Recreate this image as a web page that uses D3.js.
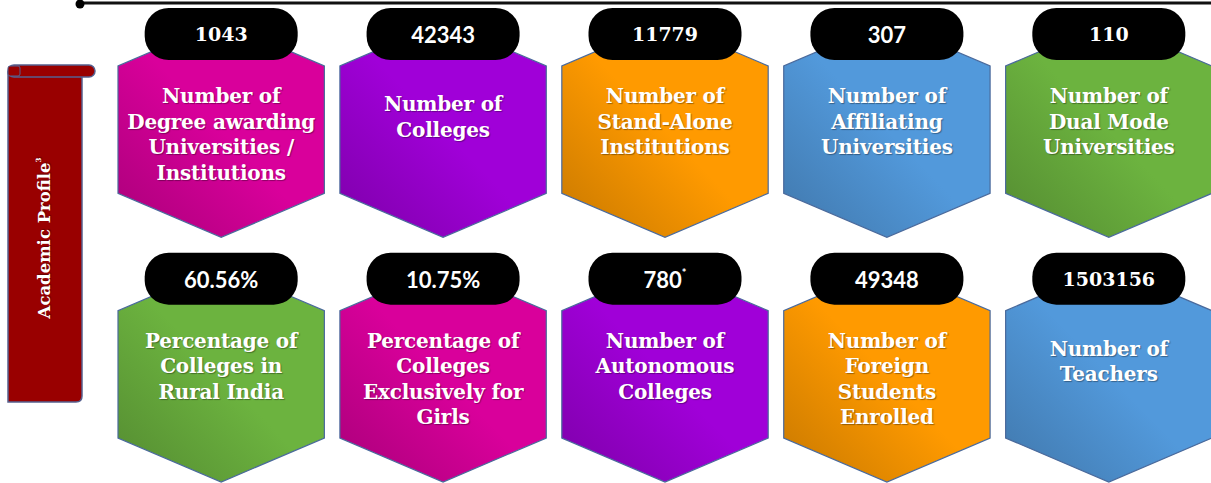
<!DOCTYPE html>
<html>
<head>
<meta charset="utf-8">
<script src="https://cdn.jsdelivr.net/npm/d3@7"></script>
<style>
  body { margin: 0; background: #fff; }
  svg text { text-shadow: 1px 1px 1px rgba(0,0,0,0.35); }
</style>
</head>
<body>
<div id="grafica"></div>
<script>
// Datos del gráfico
var values = ["1043", "42343", "11779", "307", "110", "60.56%", "10.75%", "780", "49348", "1503156"];
var labels = [
  ["Number of", "Degree awarding", "Universities /", "Institutions"],
  ["Number of", "Colleges"],
  ["Number of", "Stand-Alone", "Institutions"],
  ["Number of", "Affiliating", "Universities"],
  ["Number of", "Dual Mode", "Universities"],
  ["Percentage of", "Colleges in", "Rural India"],
  ["Percentage of", "Colleges", "Exclusively for", "Girls"],
  ["Number of", "Autonomous", "Colleges"],
  ["Number of", "Foreign", "Students", "Enrolled"],
  ["Number of", "Teachers"]
];
var groups = ["magenta", "purple", "orange", "blue", "green", "green", "magenta", "purple", "orange", "blue"];
var footnotes = ["", "", "", "", "", "", "", "*", "", ""];
var rows = ["row1", "row2"];
var cols = [0, 1, 2, 3, 4];
var title = "Academic Profile";

var width = 1211, height = 483;

var svg = d3.select("#grafica")
  .append("svg")
  .attr("width", width)
  .attr("height", height);

// escalas de posición
var x = d3.scaleBand().domain(cols).range([118, 1212]).paddingInner(0.07);
var y = d3.scaleBand().domain(rows).range([22, 482]).paddingInner(0.12);

var color = d3.scaleOrdinal()
  .domain(["magenta", "purple", "orange", "blue", "green"])
  .range(["#D9009B", "#A000D8", "#FF9A00", "#5299DB", "#6CB33F"]);

var serifValues = new Set(["1043", "11779", "110", "1503156"]);

var data = values.map(function (v, i) {
  return { value: v, label: labels[i], group: groups[i], note: footnotes[i], col: i % 5, row: rows[Math.floor(i / 5)] };
});

// gradientes
var defs = svg.append("defs");
color.domain().forEach(function (g) {
  var grad = defs.append("linearGradient")
    .attr("id", "grad-" + g)
    .attr("x1", 0).attr("y1", 1).attr("x2", 0.5).attr("y2", 0.5);
  grad.append("stop").attr("offset", "0%").attr("stop-color", d3.color(color(g)).darker(0.7));
  grad.append("stop").attr("offset", "100%").attr("stop-color", color(g));
});

// línea superior
svg.append("line")
  .attr("x1", 80).attr("x2", width)
  .attr("y1", 3).attr("y2", 3)
  .attr("stroke", "#111")
  .attr("stroke-width", 3);
svg.append("circle")
  .attr("cx", 80).attr("cy", 4).attr("r", 4.5)
  .attr("fill", "#000");

// banda lateral
var banner = svg.append("g");
banner.append("path")
  .attr("d", "M8,72 H82 V396 Q82,402 76,402 H8 Z")
  .attr("fill", "#990000")
  .attr("stroke", "#55608f")
  .attr("stroke-width", 1.5);
banner.append("rect")
  .attr("x", 8).attr("y", 65).attr("width", 87).attr("height", 12)
  .attr("rx", 6)
  .attr("fill", "#990000")
  .attr("stroke", "#55608f")
  .attr("stroke-width", 1.5);
banner.append("rect")
  .attr("x", 8).attr("y", 66).attr("width", 12).attr("height", 10)
  .attr("rx", 2)
  .attr("fill", "#990000")
  .attr("stroke", "#55608f")
  .attr("stroke-width", 1);
var bt = banner.append("text")
  .attr("transform", "translate(44,238) rotate(-90)")
  .attr("text-anchor", "middle")
  .attr("dominant-baseline", "central")
  .style("font-family", "'DejaVu Serif', serif")
  .style("font-weight", "bold")
  .style("font-size", "16.5px")
  .attr("fill", "#fff");
bt.append("tspan").text(title);
bt.append("tspan").text("3").attr("dy", -6).style("font-size", "7px");

// hexágonos
var hh = 44;
var cards = svg.selectAll(".card")
  .data(data)
  .enter()
  .append("g")
  .attr("class", "card")
  .attr("transform", function (d) { return "translate(" + x(d.col) + "," + y(d.row) + ")"; });

cards.append("path")
  .attr("d", function () {
    var w = x.bandwidth(), h = y.bandwidth();
    return "M" + (w / 2) + ",0 L" + w + "," + hh + " L" + w + "," + (h - hh) +
      " L" + (w / 2) + "," + h + " L0," + (h - hh) + " L0," + hh + " Z";
  })
  .attr("fill", function (d) { return "url(#grad-" + d.group + ")"; })
  .attr("stroke", "#4a6a9c")
  .attr("stroke-width", 1.2);

// etiquetas
cards.each(function (d) {
  var g = d3.select(this);
  var n = d.label.length;
  var y0 = 74 + (n === 2 ? 8 : 0);
  g.append("text")
    .attr("text-anchor", "middle")
    .style("font-family", "'DejaVu Serif', serif")
    .style("font-weight", "bold")
    .style("font-size", "20px")
    .style("letter-spacing", "-0.2px")
    .attr("fill", "#fff")
    .selectAll("tspan")
    .data(d.label)
    .enter()
    .append("tspan")
    .attr("x", x.bandwidth() / 2)
    .attr("y", function (t, i) { return y0 + i * 25.5; })
    .attr("dominant-baseline", "central")
    .text(function (t) { return t; });
});

// píldoras con los valores
var pw = 153, ph = 52;
cards.append("rect")
  .attr("x", x.bandwidth() / 2 - pw / 2)
  .attr("y", -14)
  .attr("width", pw)
  .attr("height", ph)
  .attr("rx", 24)
  .attr("fill", "#000");

var vt = cards.append("text")
  .attr("x", x.bandwidth() / 2)
  .attr("y", -14 + ph / 2)
  .attr("text-anchor", "middle")
  .attr("dominant-baseline", "central")
  .style("font-family", function (d) {
    return serifValues.has(d.value) ? "'DejaVu Serif', serif" : "Lato, 'Liberation Sans', sans-serif";
  })
  .style("font-weight", "bold")
  .style("font-size", function (d) { return serifValues.has(d.value) ? "19px" : "22px"; })
  .attr("fill", "#fff");
vt.append("tspan").text(function (d) { return d.value; });
vt.append("tspan")
  .attr("dy", -7)
  .style("font-size", "11px")
  .text(function (d) { return d.note; });
</script>
</body>
</html>
